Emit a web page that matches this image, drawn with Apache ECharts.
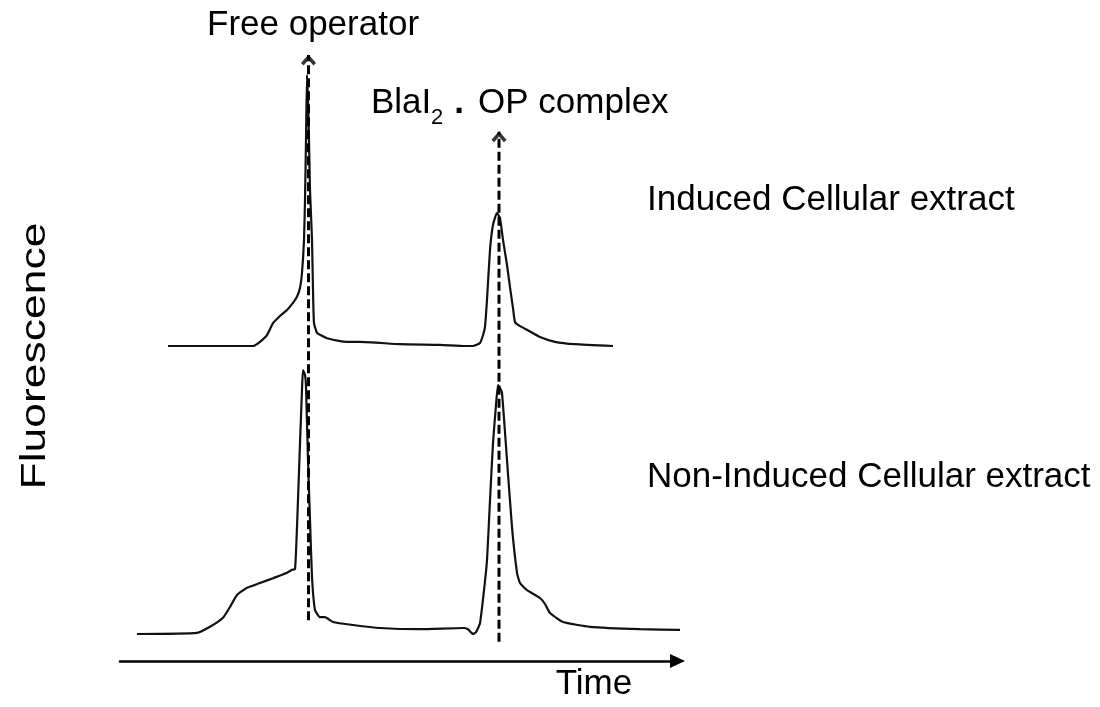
<!DOCTYPE html>
<html>
<head>
<meta charset="utf-8">
<script src="https://cdn.jsdelivr.net/npm/echarts@6/dist/echarts.min.js"></script>
<style>html,body{margin:0;padding:0;background:#fff;}#c{width:1100px;height:707px;}</style>
</head>
<body>
<div id="c"></div>
<script>
// Time (arbitrary units) and fluorescence (arbitrary units)
var inducedTime = [9.6,16,26.6,28,29.4,30.6,32,33.4,34.6,35.4,36,36.4,36.8,37,37.2,37.4,37.6,37.8,38,38.4,38.6,38.8,39.4,40.4,41.4,44,45.4,48,56,64,69,70.6,72,72.6,73,73.4,74,74.6,75.4,76,76.6,77.4,78,78.6,79,80,81.4,84,87,91,98.6];
var inducedFluor = [5,5,5,5.7,6.8,8.8,10,11,12.2,13.2,14.7,17.2,22.7,29.3,39.3,50.2,46,39.3,31,22.7,14.3,8.8,7.2,6.7,6.3,5.8,5.7,5.7,5.3,5.2,5,5,5.5,6.8,8.2,12.7,21,25.2,27.2,26.3,22.7,18.5,14.8,11.3,9,8.3,7.7,6.5,5.7,5.3,5];
var nonInducedTime = [3.4,15.4,18,20.6,22,23.4,25.4,28,30.6,33.4,34.4,35,35.4,36,36.4,36.6,37,37.2,37.6,38,38.4,39,40,41,42.6,46.6,52,60,68.6,69.6,70.6,71.2,72,72.8,73.4,74,74.6,75.2,75.6,76,76.4,77.4,78.4,79.4,80,81.4,84,85,86,88.6,94,104,112];
var nonInducedFluor = [4.5,4.7,5.7,7.2,9,11,12.2,13,13.8,14.7,15.2,15.3,22.3,36.3,45.2,48.5,47.7,45.7,33.5,23.5,14,8.5,7.3,7.3,6.5,6,5.5,5.3,5.5,5.3,4.5,4.8,6.3,11.8,16.8,26.8,36.3,42.7,46,45.5,44.7,33.5,22.3,14.7,13,11.8,10.5,9.5,8,6.5,5.7,5.3,5.2];
var inducedOffset = 47.5;           // vertical offset of the induced trace
var peakTimes = [37.7, 75.8];       // free operator, BlaI2.OP complex
var markerFrom = [6.8, 3.2];
var markerTo = [101, 88.2];
var labels = ['Free operator', 'Induced Cellular extract', 'Non-Induced Cellular extract', 'Time', 'Fluorescence'];

function zip(t, f, off) { return t.map(function (v, i) { return [v, f[i] + (off || 0)]; }); }

var FONT = '"Liberation Sans", Arial, sans-serif';
var chevron = 'path://M0,8.2 L7.5,0 L15,8.2 L12.4,10.6 L7.5,5 L2.6,10.6 Z';

var series = [
  { type: 'line', name: 'Induced', data: zip(inducedTime, inducedFluor, inducedOffset), symbol: 'none', smooth: 0.15, clip: false,
    lineStyle: { color: '#111', width: 2.2 } },
  { type: 'line', name: 'Non-Induced', data: zip(nonInducedTime, nonInducedFluor, 0), symbol: 'none', smooth: 0.15, clip: false,
    lineStyle: { color: '#111', width: 2.2 } }
];
peakTimes.forEach(function (t, i) {
  series.push({ type: 'line', data: [[t, markerFrom[i]], [t, markerTo[i]]], symbol: 'none', clip: false, z: 3,
    lineStyle: { color: '#000', width: 3, type: [9, 4] } });
});
series.push({ type: 'scatter', data: peakTimes.map(function (t, i) { return [t, markerTo[i]]; }), symbol: chevron,
  symbolSize: [15, 11], symbolOffset: [0, 5], clip: false, z: 4, itemStyle: { color: '#000' } });

var chart = echarts.init(document.getElementById('c'));
chart.setOption({
  animation: false,
  backgroundColor: '#fff',
  grid: { left: 120, top: 1, width: 560, height: 660 },
  xAxis: { type: 'value', min: 0, max: 112,
    axisLine: { show: true, lineStyle: { color: '#000', width: 2.5 }, symbol: ['none', 'triangle'], symbolSize: [14, 15], symbolOffset: [0, -2.5] },
    axisTick: { show: false }, axisLabel: { show: false }, splitLine: { show: false } },
  yAxis: { type: 'value', min: 0, max: 110, show: false },
  series: series,
  graphic: [
    { type: 'text', x: 207, y: 25.5, style: { text: labels[0], font: '35px ' + FONT, fill: '#000', verticalAlign: 'middle' } },
    { type: 'text', x: 371, y: 103.5, style: { text: 'BlaI', font: '35px ' + FONT, fill: '#000', verticalAlign: 'middle' } },
    { type: 'text', x: 431, y: 118, style: { text: '2', font: '22px ' + FONT, fill: '#000', verticalAlign: 'middle' } },
    { type: 'text', x: 459, y: 103.5, style: { text: '.', font: 'bold 35px ' + FONT, fill: '#000', align: 'center', verticalAlign: 'middle' } },
    { type: 'text', x: 478, y: 103.5, style: { text: 'OP complex', font: '35px ' + FONT, fill: '#000', verticalAlign: 'middle' } },
    { type: 'text', x: 647, y: 200.5, style: { text: labels[1], font: '35px ' + FONT, fill: '#000', verticalAlign: 'middle' } },
    { type: 'text', x: 647, y: 477.5, style: { text: labels[2], font: '35px ' + FONT, fill: '#000', verticalAlign: 'middle' } },
    { type: 'text', x: 594, y: 684.5, style: { text: labels[3], font: '35px ' + FONT, fill: '#000', align: 'center', verticalAlign: 'middle' } },
    { type: 'text', x: 35, y: 356, rotation: Math.PI / 2, scaleX: 1.27, style: { text: labels[4], font: '35px ' + FONT, fill: '#000', align: 'center', verticalAlign: 'middle' } }
  ]
});
</script>
</body>
</html>
